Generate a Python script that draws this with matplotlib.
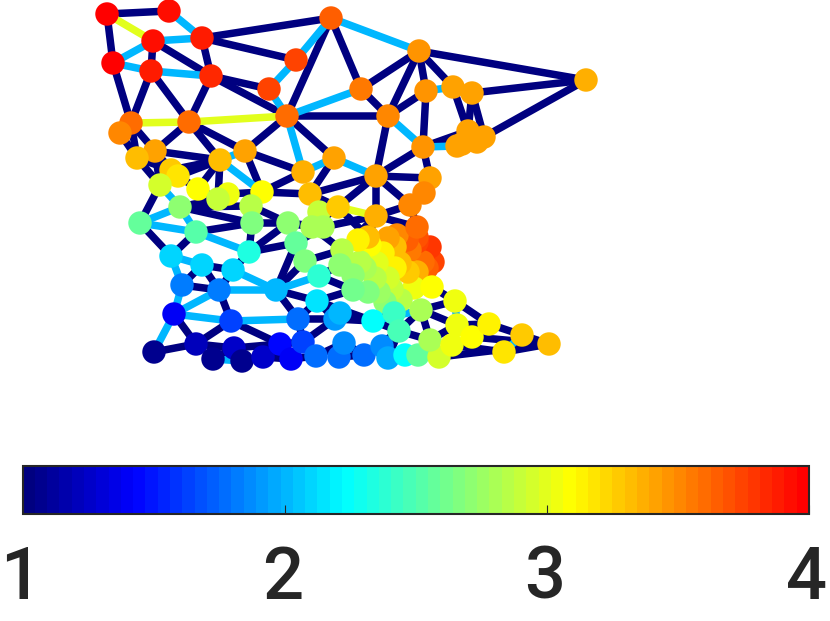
import numpy as np
import matplotlib
matplotlib.use("Agg")
import matplotlib.pyplot as plt
from matplotlib.collections import LineCollection
from matplotlib.colors import LinearSegmentedColormap
from matplotlib.transforms import ScaledTranslation

plt.rcParams["font.family"] = ["Roboto", "DejaVu Sans"]

# node positions (image pixels) and node values
node_x = [107, 169, 153, 202, 113, 151, 211, 296, 269, 331,
          287, 189, 131, 120, 155, 137, 220, 245, 303, 334,
          171, 178, 160, 198, 228, 218, 262, 310, 180, 251,
          140, 196, 252, 288, 296, 319, 312, 323, 338, 376,
          376, 388, 361, 419, 426, 453, 472, 586, 423, 468,
          484, 477, 457, 462, 430, 424, 410, 417, 171, 202,
          233, 249, 182, 219, 276, 305, 319, 317, 174, 231,
          298, 154, 196, 234, 213, 242, 263, 280, 291, 303,
          316, 339, 335, 340, 344, 364, 373, 382, 388, 405,
          418, 439, 430, 452, 455, 457, 472, 489, 522, 549,
          504, 421, 432, 394, 399, 342, 340, 353, 353, 368,
          379, 385, 401, 392, 414, 358, 368, 388, 397, 407,
          417, 430, 433, 427, 417, 417, 410, 395, 383, 370,
          360, 377, 395, 408, 400, 365, 375, 388, 423]
node_y = [14, 11, 41, 38, 63, 71, 76, 60, 89, 18,
          116, 122, 123, 133, 151, 158, 160, 151, 172, 158,
          170, 176, 185, 189, 194, 199, 192, 194, 207, 206,
          223, 232, 223, 223, 243, 212, 227, 227, 207, 176,
          216, 116, 89, 51, 91, 87, 93, 80, 147, 131,
          137, 142, 146, 144, 178, 193, 205, 227, 256, 265,
          270, 252, 285, 290, 290, 261, 276, 301, 314, 321,
          319, 352, 344, 348, 359, 361, 357, 344, 359, 342,
          356, 357, 319, 313, 343, 355, 321, 346, 358, 355,
          355, 357, 340, 345, 301, 325, 337, 324, 335, 344,
          352, 310, 287, 313, 331, 250, 265, 275, 290, 292,
          292, 302, 300, 289, 288, 240, 237, 238, 235, 240,
          237, 247, 262, 268, 272, 242, 250, 247, 253, 245,
          262, 263, 268, 272, 263, 268, 278, 278, 262]
node_v = [4.0, 3.95, 3.95, 3.9, 4.0, 3.9, 3.85, 3.75, 3.72, 3.65,
          3.6, 3.6, 3.62, 3.52, 3.43, 3.33, 3.32, 3.4, 3.35, 3.43,
          3.25, 3.2, 2.95, 3.1, 3.02, 2.9, 3.1, 3.33, 2.72, 2.85,
          2.55, 2.5, 2.65, 2.7, 2.55, 2.9, 2.8, 2.8, 3.25, 3.43,
          3.38, 3.52, 3.55, 3.46, 3.45, 3.4, 3.4, 3.38, 3.45, 3.4,
          3.4, 3.4, 3.4, 3.4, 3.43, 3.52, 3.52, 3.62, 2.08, 2.08,
          2.12, 2.33, 1.82, 1.82, 2.03, 2.67, 2.39, 2.13, 1.42, 1.62,
          1.77, 1.05, 1.23, 1.25, 1.08, 1.05, 1.28, 1.43, 1.42, 1.62,
          1.77, 1.77, 1.93, 2.03, 1.85, 1.75, 2.23, 1.88, 1.95, 2.23,
          2.55, 2.95, 2.8, 3.03, 3.03, 3.05, 3.1, 3.13, 3.27, 3.33,
          3.2, 2.8, 3.1, 2.45, 2.48, 2.85, 2.72, 2.72, 2.6, 2.68,
          2.77, 2.72, 2.87, 2.92, 3.05, 3.12, 3.33, 3.43, 3.5, 3.67,
          3.7, 3.78, 3.72, 3.65, 3.38, 3.75, 3.55, 3.3, 3.12, 3.1,
          2.87, 2.98, 3.12, 3.25, 3.3, 2.82, 2.85, 2.95, 3.6]

# edges per level: 1 = navy, 2 = light blue, 3 = yellow green
edges_1 = [(0, 1), (0, 4), (2, 5), (2, 6), (3, 6), (3, 7), (3, 9), (4, 12), (5, 12), (5, 11),
           (6, 8), (6, 10), (6, 11), (9, 10), (9, 42), (11, 16), (11, 14), (11, 17), (10, 17),
           (10, 41), (10, 19), (12, 14), (12, 15), (13, 15), (14, 16), (14, 20), (15, 22),
           (16, 20), (16, 21), (17, 18), (17, 26), (16, 23), (16, 25), (18, 26), (26, 27),
           (42, 41), (42, 43), (43, 41), (43, 44), (43, 45), (43, 47), (44, 41), (44, 48),
           (45, 49), (46, 49), (46, 50), (46, 47), (47, 50), (41, 39), (48, 49), (48, 39),
           (48, 54), (39, 54), (39, 56), (39, 27), (39, 38), (39, 40), (19, 27), (40, 56),
           (56, 57), (40, 57), (40, 116), (38, 116), (27, 38), (22, 30), (30, 58), (31, 58),
           (31, 32), (28, 32), (28, 29), (29, 32), (29, 33), (32, 61), (32, 33), (61, 33),
           (61, 34), (60, 61), (59, 60), (59, 62), (59, 63), (60, 63), (62, 63), (63, 69),
           (64, 34), (64, 65), (64, 67), (64, 70), (68, 72), (69, 72), (69, 77), (71, 72),
           (72, 73), (73, 74), (73, 75), (75, 76), (76, 77), (73, 77), (76, 78), (77, 79),
           (78, 80), (79, 80), (79, 70), (70, 67), (70, 82), (79, 82), (80, 84), (81, 85),
           (23, 25), (21, 23), (15, 20), (22, 14), (25, 28), (24, 26), (26, 29), (33, 36),
           (34, 37), (37, 40), (34, 65), (65, 66), (65, 105), (66, 106), (33, 37), (36, 38),
           (67, 82), (67, 86), (82, 86), (84, 85), (85, 87), (86, 103), (86, 104), (87, 104),
           (66, 108), (67, 108), (104, 101), (101, 92), (92, 104), (92, 95), (101, 95),
           (101, 94), (94, 102), (94, 97), (95, 97), (96, 99), (97, 98), (98, 99), (91, 99),
           (93, 100), (100, 99), (88, 104), (85, 104), (40, 105), (57, 125), (105, 36)]
edges_2 = [(1, 3), (2, 4), (2, 3), (4, 5), (5, 6), (7, 8), (7, 9), (8, 10), (10, 42), (10, 18),
           (9, 43), (44, 45), (41, 48), (48, 52), (39, 19), (16, 17), (16, 26), (18, 19),
           (22, 28), (28, 30), (28, 31), (30, 31), (31, 61), (58, 59), (58, 62), (60, 64),
           (62, 68), (63, 68), (63, 64), (64, 66), (68, 69), (68, 71), (69, 70), (74, 75),
           (101, 86), (94, 95), (95, 96), (98, 100)]
edges_3 = [(0, 2), (12, 11), (11, 10), (38, 40)]

colorbar_ticks = [1, 2, 3, 4]
map_stops = [0, 0.137, 0.41, 0.70, 1]
map_colors = [(0, 0, 0.5), (0, 0, 1), (0, 1, 1), (1, 1, 0), (1, 0, 0)]
first_cluster_node = 105


def main():
    fig = plt.figure(figsize=(8.30, 6.21), dpi=100)
    ax = fig.add_axes([0, 0, 1, 1])
    ax.set_xlim(0, 830)
    ax.set_ylim(621, 0)
    ax.axis("off")

    # jet-like map, but red right at the top end
    cmap = LinearSegmentedColormap.from_list("jetish", list(zip(map_stops, map_colors)), N=64)
    norm = plt.Normalize(1, 4)

    x = np.array(node_x)
    y = np.array(node_y)
    v = np.array(node_v)
    edges = edges_1 + edges_2 + edges_3
    levels = [1] * len(edges_1) + [2] * len(edges_2) + [3] * len(edges_3)
    segments = [[(x[a], y[a]), (x[b], y[b])] for a, b in edges]
    lines = LineCollection(segments, cmap=cmap, norm=norm, linewidths=5.4, zorder=1)
    lines.set_array(np.array(levels))
    ax.add_collection(lines)

    # the crowded cluster goes first, right to left, so the rest sits on top of it
    cluster = np.arange(first_cluster_node, len(x))
    cluster = cluster[np.argsort(-x[cluster])]
    order = np.r_[cluster, np.arange(first_cluster_node)]
    dots = ax.scatter(x[order], y[order], c=v[order], cmap=cmap, norm=norm, s=285,
                      linewidths=0, zorder=2)

    # colorbar along the bottom, ticks point inwards
    cax = fig.add_axes([22.5 / 830, 1 - 514 / 621, 786.5 / 830, 48 / 621])
    cbar = fig.colorbar(dots, cax=cax, orientation="horizontal", ticks=colorbar_ticks)
    cbar.outline.set_edgecolor("#262626")
    cbar.outline.set_linewidth(1.5)
    cax.tick_params(axis="x", direction="in", length=6.5, width=0.8, color="#262626",
                    labelsize=52, labelcolor="#262626", pad=22)
    cax.xaxis.set_ticks_position("bottom")
    shift = ScaledTranslation(-2 / 100, 0, fig.dpi_scale_trans)
    for label in cax.get_xticklabels():
        label.set_transform(label.get_transform() + shift)
        label.set_fontweight("medium")

    fig.savefig("out.png", dpi=100)


if __name__ == "__main__":
    main()
